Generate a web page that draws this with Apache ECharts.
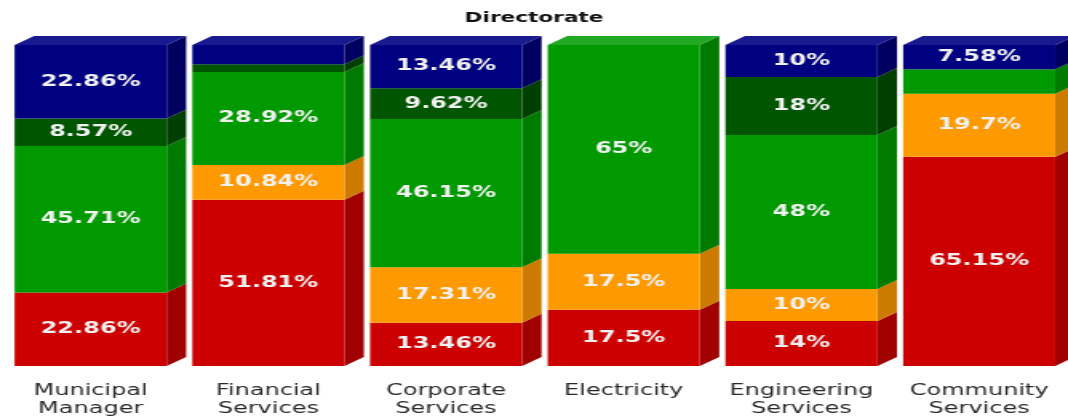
<!DOCTYPE html>
<html>
<head>
<meta charset="utf-8">
<script src="https://cdn.jsdelivr.net/npm/echarts@6/dist/echarts.min.js"></script>
<style>
html,body{margin:0;padding:0;background:#fff;}
#wrap{width:1068px;height:420px;overflow:hidden;position:relative;}
#chart{width:668px;height:420px;transform:scaleX(1.5988);transform-origin:0 0;}
</style>
</head>
<body>
<div id="wrap"><div id="chart"></div></div>
<script>
const categories = ['Municipal\nManager', 'Financial\nServices', 'Corporate\nServices', 'Electricity', 'Engineering\nServices', 'Community\nServices'];
const red       = [22.86, 51.81, 13.46, 17.5, 14, 65.15];
const orange    = [0, 10.84, 17.31, 17.5, 10, 19.7];
const green     = [45.71, 28.92, 46.15, 65, 48, 7.58];
const darkGreen = [8.57, 2.41, 9.62, 0, 18, 0];
const navy      = [22.86, 6.02, 13.46, 0, 10, 7.58];
const title = 'Directorate';

const seriesValues = [red, orange, green, darkGreen, navy];
const names = ['Red', 'Orange', 'Green', 'Dark Green', 'Navy'];
const frontColors = ['#cc0000', '#ff9900', '#009900', '#005500', '#000080'];
const sideColors  = ['#a00000', '#cc7a00', '#007a00', '#003f00', '#000060'];
const topColors   = ['#d83030', '#ffad33', '#22a822', '#1a661a', '#1a1a90'];
// labels hidden in the reference: [seriesIndex, categoryIndex]
const hiddenLabels = [[3, 1], [4, 1], [2, 5]];

const BW = 95.1, DX = 12.2, DY = 9;

const bars = seriesValues.map((vals, k) => ({
  name: names[k],
  type: 'bar',
  stack: 'total',
  barWidth: BW,
  itemStyle: { color: frontColors[k] },
  label: {
    show: true,
    position: 'inside',
    color: '#f2f2f2',
    fontFamily: 'DejaVu Sans',
    fontWeight: 'bold',
    fontSize: 15,
    formatter: p => (p.value > 0 ? p.value + '%' : '')
  },
  data: vals.map((v, i) => {
    const hide = hiddenLabels.some(h => h[0] === k && h[1] === i) || v <= 0;
    return hide ? { value: v, label: { show: false } } : v;
  })
}));

const depth = {
  type: 'custom',
  silent: true,
  clip: false,
  z: 1,
  encode: { x: 0, y: 1 },
  data: categories.map((c, i) => [i, 100]),
  renderItem: function (params, api) {
    const i = api.value(0);
    const children = [];
    let cum = 0, lastK = -1;
    for (let k = 0; k < seriesValues.length; k++) {
      const v = seriesValues[k][i];
      if (!(v > 0)) continue;
      const p0 = api.coord([i, cum]);
      const p1 = api.coord([i, cum + v]);
      const x1 = p0[0] + BW / 2;
      children.push({
        type: 'polygon',
        shape: { points: [[x1, p1[1]], [x1 + DX, p1[1] - DY], [x1 + DX, p0[1] - DY], [x1, p0[1]]] },
        style: { fill: sideColors[k] }
      });
      cum += v;
      lastK = k;
    }
    if (lastK >= 0) {
      const pt = api.coord([i, cum]);
      const x0 = pt[0] - BW / 2, x1 = pt[0] + BW / 2;
      children.push({
        type: 'polygon',
        shape: { points: [[x0, pt[1]], [x0 + DX, pt[1] - DY], [x1 + DX, pt[1] - DY], [x1, pt[1]]] },
        style: { fill: topColors[lastK] }
      });
    }
    return { type: 'group', children: children };
  }
};

const chart = echarts.init(document.getElementById('chart'), null, { renderer: 'canvas' });
chart.setOption({
  animation: false,
  title: {
    text: title, left: 'center', top: 6,
    textStyle: { fontFamily: 'DejaVu Sans', fontWeight: 'bold', fontSize: 13.5, color: '#111' }
  },
  grid: { left: 1.1, top: 45, width: 669.9, height: 321 },
  xAxis: {
    type: 'category',
    data: categories,
    axisLine: { show: false },
    axisTick: { show: false },
    axisLabel: { interval: 0, margin: 16, fontFamily: 'DejaVu Sans', fontSize: 15, color: '#2a2a2a', lineHeight: 18 }
  },
  yAxis: { type: 'value', min: 0, max: 100, show: false },
  series: bars.concat([depth])
});
</script>
</body>
</html>
